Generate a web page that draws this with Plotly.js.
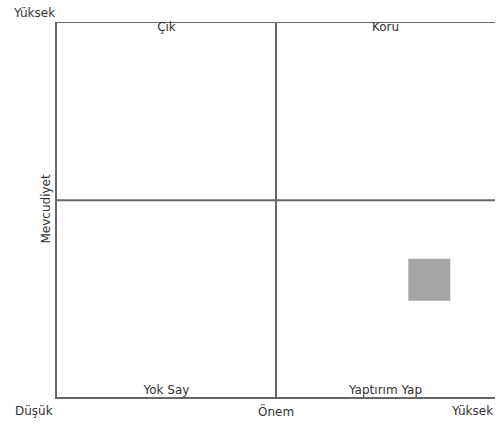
<!DOCTYPE html>
<html><head><meta charset="utf-8">
<script src="https://cdn.plot.ly/plotly-3.0.1.min.js"></script>
<style>html,body{margin:0;padding:0;background:#fff}#c{width:497px;height:427px}</style>
</head><body><div id="c"></div>
<script>
const quadrantNames = ["Çık", "Koru", "Yok Say", "Yaptırım Yap"];
const quadrantX = [2.5, 7.5, 2.5, 7.5];
const quadrantY = [10, 10, 0, 0];
const dividerX = 5;
const dividerY = 5.25;
const pointX = [8.5];
const pointY = [3.13];
const xTickLabels = ["Düşük", "Önem", "Yüksek"];
const yTickLabels = ["Düşük", "Yüksek"];
const yTitle = "Mevcudiyet";

const lineStyle = {color: "#666666", width: 2};
const txtFont = {family: "DejaVu Sans, Liberation Sans, Arial, sans-serif", size: 12, color: "#333"};

const data = [
  {x: [dividerX, dividerX], y: [0, 10], mode: "lines", line: lineStyle, hoverinfo: "skip", showlegend: false},
  {x: [0, 10], y: [dividerY, dividerY], mode: "lines", line: lineStyle, hoverinfo: "skip", showlegend: false},
  {x: [0, 10], y: [10, 10], mode: "lines", line: lineStyle, hoverinfo: "skip", showlegend: false},
  {x: pointX, y: pointY, mode: "markers", marker: {symbol: "square", size: 42, color: "#a5a5a5", line: {width: 0}}, showlegend: false},
  {x: quadrantX, y: quadrantY, mode: "text", text: quadrantNames,
   textposition: quadrantY.map(v => v > 5 ? "bottom center" : "top center"),
   textfont: txtFont, showlegend: false, hoverinfo: "skip", cliponaxis: false}
];

const layout = {
  width: 497, height: 427,
  margin: {l: 57, r: 2, t: 22, b: 30},
  paper_bgcolor: "#fff", plot_bgcolor: "#fff",
  showlegend: false,
  xaxis: {range: [0, 10], showgrid: false, zeroline: false, showticklabels: false, ticks: "",
          showline: true, linecolor: "#666666", linewidth: 2, fixedrange: true},
  yaxis: {range: [0, 10], showgrid: false, zeroline: false, showticklabels: false, ticks: "",
          showline: true, linecolor: "#666666", linewidth: 2, fixedrange: true},
  annotations: [
    {text: xTickLabels[0], xref: "paper", yref: "paper", x: -0.052, y: 0, yshift: -14, xanchor: "center", yanchor: "middle", showarrow: false, font: txtFont},
    {text: xTickLabels[1], xref: "x", yref: "paper", x: dividerX, y: 0, yshift: -14, xanchor: "center", yanchor: "middle", showarrow: false, font: txtFont},
    {text: xTickLabels[2], xref: "paper", yref: "paper", x: 1, y: 0, yshift: -14, xanchor: "right", yanchor: "middle", showarrow: false, font: txtFont},
    {text: yTickLabels[1], xref: "paper", yref: "paper", x: -0.105, y: 1, yshift: 9, xanchor: "left", yanchor: "middle", showarrow: false, font: txtFont},
    {text: yTitle, xref: "paper", yref: "paper", x: 0, xshift: -3, y: 0.5, xanchor: "right", yanchor: "middle", textangle: -90, showarrow: false, font: txtFont}
  ]
};

Plotly.newPlot("c", data, layout, {displayModeBar: false, staticPlot: true});
</script>
</body></html>
